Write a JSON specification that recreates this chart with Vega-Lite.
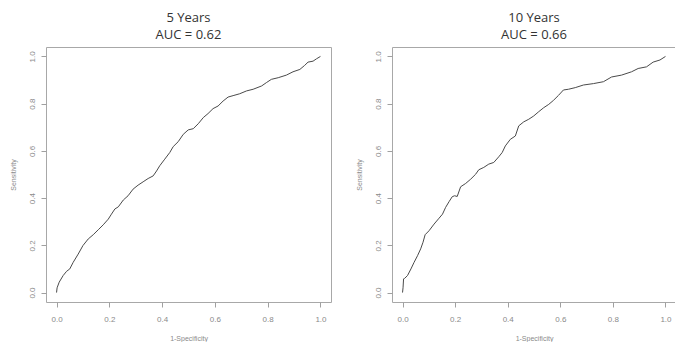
{
  "$schema": "https://vega.github.io/schema/vega-lite/v6.json",
  "background": "white",
  "padding": {"left": 8, "top": 11, "right": 0, "bottom": 0},
  "spacing": 22,
  "config": {
    "view": {"stroke": "#a8a8a8", "strokeWidth": 1},
    "axis": {
      "grid": false, "domain": false, "tickColor": "#a0a0a0", "tickSize": 5,
      "labelColor": "#8a8a8a", "labelFont": "Liberation Sans", "labelFontSize": 8,
      "titleColor": "#8a8a8a", "titleFont": "Liberation Sans", "titleFontSize": 7, "titleFontWeight": "normal"
    },
    "title": {"font": "Open Sans", "fontSize": 13, "fontWeight": "normal", "color": "#333333", "lineHeight": 17, "offset": 5, "anchor": "middle"},
    "line": {"color": "#4a4a4a", "strokeWidth": 1}
  },
  "datasets": {
    "y5": [
      {"fpr": 0.0, "tpr": 0.0}, {"fpr": 0.002, "tpr": 0.02}, {"fpr": 0.01, "tpr": 0.044}, {"fpr": 0.025, "tpr": 0.072},
      {"fpr": 0.038, "tpr": 0.09}, {"fpr": 0.05, "tpr": 0.1}, {"fpr": 0.063, "tpr": 0.128}, {"fpr": 0.082, "tpr": 0.163},
      {"fpr": 0.1, "tpr": 0.199}, {"fpr": 0.12, "tpr": 0.227}, {"fpr": 0.139, "tpr": 0.245}, {"fpr": 0.158, "tpr": 0.266},
      {"fpr": 0.177, "tpr": 0.287}, {"fpr": 0.196, "tpr": 0.311}, {"fpr": 0.208, "tpr": 0.332}, {"fpr": 0.221, "tpr": 0.354},
      {"fpr": 0.234, "tpr": 0.363}, {"fpr": 0.253, "tpr": 0.392}, {"fpr": 0.271, "tpr": 0.41}, {"fpr": 0.29, "tpr": 0.438},
      {"fpr": 0.309, "tpr": 0.455}, {"fpr": 0.328, "tpr": 0.469}, {"fpr": 0.347, "tpr": 0.483}, {"fpr": 0.366, "tpr": 0.494},
      {"fpr": 0.379, "tpr": 0.515}, {"fpr": 0.391, "tpr": 0.537}, {"fpr": 0.41, "tpr": 0.565}, {"fpr": 0.429, "tpr": 0.593},
      {"fpr": 0.442, "tpr": 0.618}, {"fpr": 0.461, "tpr": 0.639}, {"fpr": 0.48, "tpr": 0.67}, {"fpr": 0.499, "tpr": 0.689},
      {"fpr": 0.518, "tpr": 0.694}, {"fpr": 0.537, "tpr": 0.715}, {"fpr": 0.556, "tpr": 0.741}, {"fpr": 0.574, "tpr": 0.758},
      {"fpr": 0.593, "tpr": 0.779}, {"fpr": 0.612, "tpr": 0.79}, {"fpr": 0.631, "tpr": 0.811}, {"fpr": 0.65, "tpr": 0.828},
      {"fpr": 0.669, "tpr": 0.834}, {"fpr": 0.694, "tpr": 0.842}, {"fpr": 0.72, "tpr": 0.854}, {"fpr": 0.745, "tpr": 0.861},
      {"fpr": 0.777, "tpr": 0.875}, {"fpr": 0.795, "tpr": 0.889}, {"fpr": 0.814, "tpr": 0.903}, {"fpr": 0.84, "tpr": 0.91},
      {"fpr": 0.871, "tpr": 0.921}, {"fpr": 0.896, "tpr": 0.935}, {"fpr": 0.922, "tpr": 0.945}, {"fpr": 0.94, "tpr": 0.962},
      {"fpr": 0.953, "tpr": 0.976}, {"fpr": 0.972, "tpr": 0.98}, {"fpr": 0.985, "tpr": 0.99}, {"fpr": 1.0, "tpr": 1.0}
    ],
    "y10": [
      {"fpr": 0.0, "tpr": 0.0}, {"fpr": 0.002, "tpr": 0.02}, {"fpr": 0.004, "tpr": 0.058}, {"fpr": 0.008, "tpr": 0.06},
      {"fpr": 0.019, "tpr": 0.072}, {"fpr": 0.032, "tpr": 0.1}, {"fpr": 0.044, "tpr": 0.128}, {"fpr": 0.057, "tpr": 0.156},
      {"fpr": 0.069, "tpr": 0.185}, {"fpr": 0.078, "tpr": 0.213}, {"fpr": 0.086, "tpr": 0.245}, {"fpr": 0.101, "tpr": 0.262},
      {"fpr": 0.12, "tpr": 0.29}, {"fpr": 0.139, "tpr": 0.315}, {"fpr": 0.152, "tpr": 0.332}, {"fpr": 0.164, "tpr": 0.361},
      {"fpr": 0.177, "tpr": 0.385}, {"fpr": 0.189, "tpr": 0.406}, {"fpr": 0.198, "tpr": 0.41}, {"fpr": 0.208, "tpr": 0.407},
      {"fpr": 0.221, "tpr": 0.448}, {"fpr": 0.24, "tpr": 0.462}, {"fpr": 0.259, "tpr": 0.48}, {"fpr": 0.278, "tpr": 0.501},
      {"fpr": 0.29, "tpr": 0.52}, {"fpr": 0.309, "tpr": 0.53}, {"fpr": 0.328, "tpr": 0.544}, {"fpr": 0.347, "tpr": 0.551},
      {"fpr": 0.366, "tpr": 0.575}, {"fpr": 0.379, "tpr": 0.593}, {"fpr": 0.391, "tpr": 0.621}, {"fpr": 0.41, "tpr": 0.649},
      {"fpr": 0.429, "tpr": 0.663}, {"fpr": 0.442, "tpr": 0.706}, {"fpr": 0.461, "tpr": 0.723}, {"fpr": 0.48, "tpr": 0.734},
      {"fpr": 0.499, "tpr": 0.748}, {"fpr": 0.518, "tpr": 0.766}, {"fpr": 0.537, "tpr": 0.783}, {"fpr": 0.556, "tpr": 0.797},
      {"fpr": 0.574, "tpr": 0.814}, {"fpr": 0.593, "tpr": 0.835}, {"fpr": 0.612, "tpr": 0.858}, {"fpr": 0.631, "tpr": 0.861},
      {"fpr": 0.657, "tpr": 0.868}, {"fpr": 0.688, "tpr": 0.879}, {"fpr": 0.726, "tpr": 0.885}, {"fpr": 0.764, "tpr": 0.893},
      {"fpr": 0.795, "tpr": 0.913}, {"fpr": 0.833, "tpr": 0.921}, {"fpr": 0.871, "tpr": 0.935}, {"fpr": 0.896, "tpr": 0.949},
      {"fpr": 0.928, "tpr": 0.956}, {"fpr": 0.953, "tpr": 0.976}, {"fpr": 0.979, "tpr": 0.985}, {"fpr": 1.0, "tpr": 1.0}
    ]
  },
  "hconcat": [
    {
      "title": {"text": ["5 Years", "AUC = 0.62"]},
      "width": 285, "height": 255,
      "data": {"name": "y5"},
      "mark": {"type": "line", "clip": true},
      "encoding": {
        "x": {"field": "fpr", "type": "quantitative", "title": "1-Specificity",
              "scale": {"domain": [-0.04, 1.04], "nice": false, "zero": false},
              "axis": {"values": [0, 0.2, 0.4, 0.6, 0.8, 1.0], "format": ".1f", "labelPadding": 8, "titlePadding": 11}},
        "y": {"field": "tpr", "type": "quantitative", "title": "Sensitivity",
              "scale": {"domain": [-0.04, 1.04], "nice": false, "zero": false},
              "axis": {"values": [0, 0.2, 0.4, 0.6, 0.8, 1.0], "format": ".1f", "labelAngle": 270, "labelPadding": 5, "titlePadding": 12}},
        "order": {"field": "fpr", "type": "quantitative"}
      }
    },
    {
      "title": {"text": ["10 Years", "AUC = 0.66"]},
      "width": 284, "height": 255,
      "data": {"name": "y10"},
      "mark": {"type": "line", "clip": true},
      "encoding": {
        "x": {"field": "fpr", "type": "quantitative", "title": "1-Specificity",
              "scale": {"domain": [-0.04, 1.04], "nice": false, "zero": false},
              "axis": {"values": [0, 0.2, 0.4, 0.6, 0.8, 1.0], "format": ".1f", "labelPadding": 8, "titlePadding": 11}},
        "y": {"field": "tpr", "type": "quantitative", "title": "Sensitivity",
              "scale": {"domain": [-0.04, 1.04], "nice": false, "zero": false},
              "axis": {"values": [0, 0.2, 0.4, 0.6, 0.8, 1.0], "format": ".1f", "labelAngle": 270, "labelPadding": 5, "titlePadding": 12}},
        "order": {"field": "fpr", "type": "quantitative"}
      }
    }
  ]
}
